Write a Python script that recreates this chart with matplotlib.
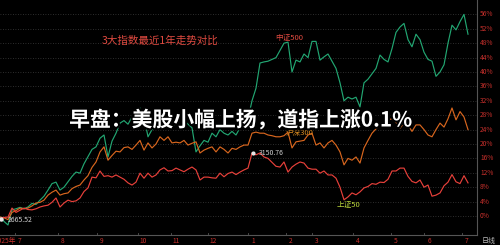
import matplotlib
matplotlib.use("Agg")
import matplotlib.pyplot as plt
import matplotlib.patheffects as pe
import numpy as np

plt.rcParams['font.family'] = ['Noto Sans CJK SC', 'DejaVu Sans']

# cumulative change, %, one value per sample (about every 2 trading days)
zz500 = [-0.3, -1.5, -2.5, 1.7, 2.0, 2.4, 2.0, 2.5, 3.5, 3.2, 4.4, 5.5, 7.2, 9.0, 9.4, 7.2,
         8.0, 9.5, 11.0, 12.2, 11.9, 14.5, 16.5, 18.5, 19.2, 21.6, 22.5, 16.4, 20.8, 23.0,
         25.8, 26.5, 25.5, 27.5, 26.0, 30.0, 27.5, 22.0, 24.0, 24.7, 26.0, 25.0, 26.5, 24.5,
         26.0, 25.0, 26.5, 25.5, 24.5, 17.8, 19.5, 21.0, 20.5, 23.0, 22.0, 24.0, 23.0, 22.5,
         23.5, 22.5, 24.5, 25.8, 27.0, 32.0, 35.5, 42.5, 42.8, 43.0, 43.5, 44.0, 46.0, 48.0,
         48.3, 40.0, 43.3, 42.8, 45.0, 44.0, 48.5, 48.5, 43.3, 44.2, 45.0, 43.0, 41.0, 37.0,
         32.0, 33.0, 32.5, 33.0, 30.3, 37.0, 38.0, 39.5, 41.0, 44.7, 43.5, 42.8, 46.5, 51.0,
         52.5, 53.5, 49.0, 47.0, 50.5, 49.0, 45.5, 43.5, 43.0, 38.8, 40.0, 42.0, 48.0, 53.0,
         51.7, 54.0, 56.0, 50.5]
hs300 = [-0.3, -0.5, -1.0, 1.0, 1.5, 2.2, 2.0, 2.2, 2.8, 3.6, 3.8, 4.4, 5.8, 6.6, 7.2, 5.8,
         6.2, 6.4, 7.6, 8.2, 8.6, 10.0, 11.2, 13.5, 15.0, 17.8, 19.2, 15.5, 16.8, 18.0,
         17.8, 19.0, 19.2, 18.5, 19.7, 21.0, 18.3, 20.3, 18.9, 20.0, 22.0, 21.0, 22.0, 20.3,
         20.5, 20.3, 21.0, 19.7, 20.2, 20.6, 17.5, 18.3, 18.8, 19.2, 17.8, 19.2, 18.5, 17.5,
         18.8, 18.5, 19.2, 19.7, 19.7, 23.0, 23.3, 23.0, 23.0, 22.5, 22.3, 22.0, 22.0, 22.3,
         23.3, 18.9, 20.6, 20.8, 21.0, 22.5, 23.0, 19.7, 20.3, 18.9, 20.3, 21.0, 19.7, 17.8,
         14.2, 16.0, 15.5, 16.4, 14.7, 18.9, 21.0, 23.0, 24.2, 25.3, 26.0, 26.7, 27.0, 26.0,
         24.4, 25.8, 25.3, 23.5, 25.3, 25.3, 24.0, 22.5, 22.0, 24.0, 25.8, 24.7, 27.0, 30.0,
         26.7, 29.0, 27.5, 24.0]
sz50 = [-0.6, -0.4, -0.3, 2.2, 1.0, 1.6, 2.2, 1.8, 1.7, 2.0, 2.5, 2.8, 3.0, 3.8, 5.0, 2.5,
        3.6, 4.4, 4.0, 4.2, 5.0, 6.8, 7.8, 10.8, 10.6, 12.5, 11.0, 11.2, 10.8, 11.4,
        10.8, 10.2, 9.2, 8.6, 9.4, 11.9, 10.5, 11.9, 10.8, 11.4, 12.8, 13.4, 12.5, 12.6,
        13.3, 12.8, 12.3, 13.0, 13.6, 12.8, 10.0, 10.8, 10.8, 10.6, 10.5, 11.9, 10.9, 11.8,
        12.2, 11.5, 12.2, 12.8, 13.3, 17.5, 17.0, 17.5, 16.4, 16.0, 14.9, 13.8, 13.6, 15.0,
        12.2, 13.6, 14.4, 15.0, 14.7, 13.3, 13.0, 13.0, 11.9, 12.5, 11.4, 11.4, 10.5, 8.0,
        4.5, 5.3, 6.4, 5.9, 6.7, 7.8, 8.2, 9.0, 8.8, 9.4, 9.3, 10.2, 12.5, 12.5,
        13.3, 13.3, 11.0, 9.6, 9.2, 10.0, 8.0, 8.6, 5.5, 5.8, 6.4, 8.4, 9.4, 11.5,
        9.5, 9.0, 11.2, 9.2]

sz50_low = "2665.52"
sz50_high = "3150.76"

month_labels = ['7', '8', '9', '10', '11', '12', '1', '2', '3', '4', '5', '6', '7']
month_pos = [5, 15.75, 25.5, 35.75, 44, 53.25, 63.25, 72.75, 79.25, 89.5, 99, 107.25, 116.75]
y_ticks = list(range(0, 57, 4))

GREEN = '#22a672'
ORANGE = '#d8661e'
RED = '#e8403a'
LABEL_RED = '#c8302c'

fig = plt.figure(figsize=(5, 2.45), dpi=100, facecolor='black')
ax = fig.add_axes([0, 10 / 245, 477 / 500, 235 / 245], facecolor='black')

x = np.arange(len(zz500))
for yv in y_ticks:
    ax.axhline(yv, color='#3c3c3c', lw=0.6, ls=(0, (1, 2)), zorder=1)

ax.plot(x, zz500, color=GREEN, lw=0.85, zorder=3)
ax.plot(x, hs300, color=ORANGE, lw=0.85, zorder=3)
ax.plot(x, sz50, color=RED, lw=0.85, zorder=3)

ax.set_xlim(0, 119.25)
ax.set_ylim(-5.28, 60)
ax.set_xticks([])
ax.set_yticks([])
for s in ['left', 'top']:
    ax.spines[s].set_visible(False)
ax.spines['right'].set_color('#555555')
ax.spines['bottom'].set_color('#555555')
ax.spines['right'].set_linewidth(0.8)
ax.spines['bottom'].set_linewidth(0.8)

# min / max marks on 上证50
i_lo = int(np.argmin(sz50))
i_hi = int(np.argmax(sz50))
ax.plot(i_lo + 0.3, sz50[i_lo] - 0.3, 'o', ms=2.2, color='#e8e8e8', zorder=4)
ax.text(i_lo + 2.0, sz50[i_lo] - 0.5, sz50_low, color='#cfcfcf', fontsize=5,
        va='center', ha='left', zorder=5)
ax.plot(i_hi + 0.2, sz50[i_hi], 'o', ms=2.0, color='#e8e8e8', zorder=4)
ax.text(i_hi + 1.8, sz50[i_hi], sz50_high, color='#cfcfcf', fontsize=5,
        va='center', ha='left', zorder=5)

# series names
ax.text(72.3, 49.5, '中证500', color='#e04a40', fontsize=5.5, ha='center', va='center')
ax.text(74.8, 23.0, '沪深300', color='#d88a20', fontsize=5.5, ha='center', va='center')
ax.text(87.1, 3.1, '上证50', color='#b8d43a', fontsize=5.5, ha='center', va='center')

ax.text(40, 48.8, '3大指数最近1年走势对比', color='#e04a40', fontsize=7.6,
        ha='center', va='center')

# right axis percentage labels
for yv in y_ticks:
    fig.text(480 / 500, ax.transData.transform((0, yv))[1] / 245, f'{yv}%',
             color=LABEL_RED, fontsize=4.8, ha='left', va='center')

# month labels
for p, lab in zip(month_pos, month_labels):
    xf = ax.transData.transform((p, 0))[0] / 500
    fig.text(xf, 4.5 / 245, lab, color=LABEL_RED, fontsize=4.8, ha='center', va='center')
    ax.plot([p - 1.2, p - 1.2], [-5.28, -4.6], color='#555555', lw=0.6, clip_on=False)
fig.text(16 / 500, 4.5 / 245, '2025年', color=LABEL_RED, fontsize=4.8, ha='right', va='center')
fig.text(489 / 500, 4.5 / 245, '日线', color='#bbbbbb', fontsize=5, ha='center', va='center')

# headline overlay
fig.text(241 / 500, 1 - 120 / 245, '早盘：美股小幅上扬，道指上涨0.1%', color='white',
         fontsize=15, fontweight='bold', ha='center', va='center',
         path_effects=[pe.withStroke(linewidth=3, foreground='black')], zorder=10)

plt.savefig('out.png', dpi=100, facecolor='black')
